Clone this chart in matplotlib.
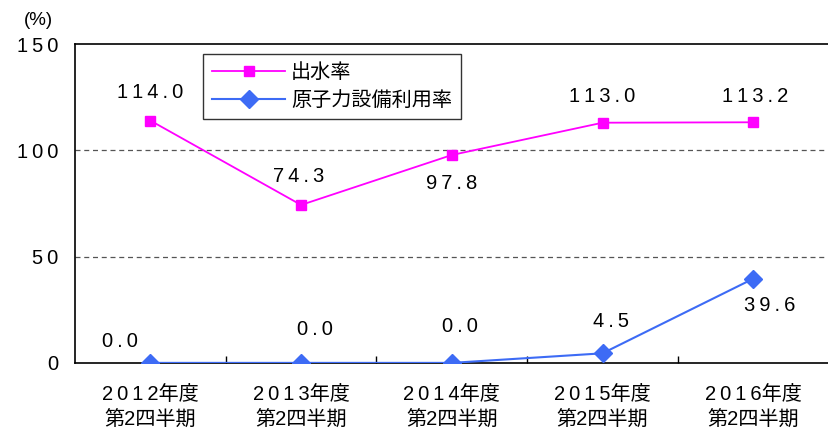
import matplotlib.pyplot as plt
import numpy as np

plt.rcParams['font.family'] = ['Liberation Sans', 'Noto Sans CJK JP', 'DejaVu Sans']

years = ["2012", "2013", "2014", "2015", "2016"]
period = "第2四半期"
water_rate = [114.0, 74.3, 97.8, 113.0, 113.2]
nuclear_rate = [0.0, 0.0, 0.0, 4.5, 39.6]
y_ticks = [0, 50, 100, 150]

FS = 14.5


def spaced(s):
    # the original uses a wide letter spacing on numbers
    return "\u2009".join(s)


# label offsets in pixels (dx, dy)
water_off = [(0, 28), (-2, 28), (0, -28), (0, 26), (2, 26)]
nuclear_off = [(-30, 21), (14, 33), (8, 36), (8, 32), (16, -27)]

fig = plt.figure(figsize=(8.29, 4.32), dpi=100)
ax = fig.add_axes([0.0905, 0.16, 0.909, 0.738])

x = np.arange(len(years))
pink = "#FF00FF"
blue = "#3D6BF5"

ax.plot(x, water_rate, color=pink, lw=1.3, marker="s", ms=6.5, label="出水率", zorder=3)
ax.plot(x, nuclear_rate, color=blue, lw=1.5, marker="D", ms=9, label="原子力設備利用率", zorder=3)

for xi, v, (dx, dy) in zip(x, water_rate, water_off):
    ax.annotate(spaced(f"{v:.1f}"), (xi, v), xytext=(dx, dy), textcoords="offset pixels",
                ha="center", va="center", fontsize=FS)
for xi, v, (dx, dy) in zip(x, nuclear_rate, nuclear_off):
    ax.annotate(spaced(f"{v:.1f}"), (xi, v), xytext=(dx, dy), textcoords="offset pixels",
                ha="center", va="center", fontsize=FS)

ax.set_xlim(-0.5, len(years) - 0.5)
ax.set_ylim(0, 150)
ax.set_yticks(y_ticks)
ax.set_yticklabels([spaced(str(t)) for t in y_ticks], fontsize=FS)
ax.set_xticks(x)
ax.set_xticklabels([f"{spaced(y)}年度\n{period}" for y in years], fontsize=FS, linespacing=1.45)
ax.set_xticks(x[:-1] + 0.5, minor=True)
ax.tick_params(axis="x", which="major", length=0, pad=16)
ax.tick_params(axis="x", which="minor", direction="in", length=5, width=1)
ax.tick_params(axis="y", direction="out", length=0, pad=12)

for yv in [50, 100]:
    ax.axhline(yv, color="#555555", lw=0.9, ls=(0, (4, 3)), zorder=1)

for sp in ax.spines.values():
    sp.set_linewidth(1.2)
    sp.set_color("black")

ax.text(-0.068, 1.06, "(%)", transform=ax.transAxes, fontsize=FS - 1)

leg = ax.legend(loc="upper left", bbox_to_anchor=(0.157, 1.0), fontsize=FS,
                frameon=True, fancybox=False, edgecolor="black", borderpad=0.45,
                handlelength=3.6, labelspacing=0.45, handletextpad=0.3)
leg.get_frame().set_linewidth(1.0)

fig.savefig("out.png", dpi=100)
